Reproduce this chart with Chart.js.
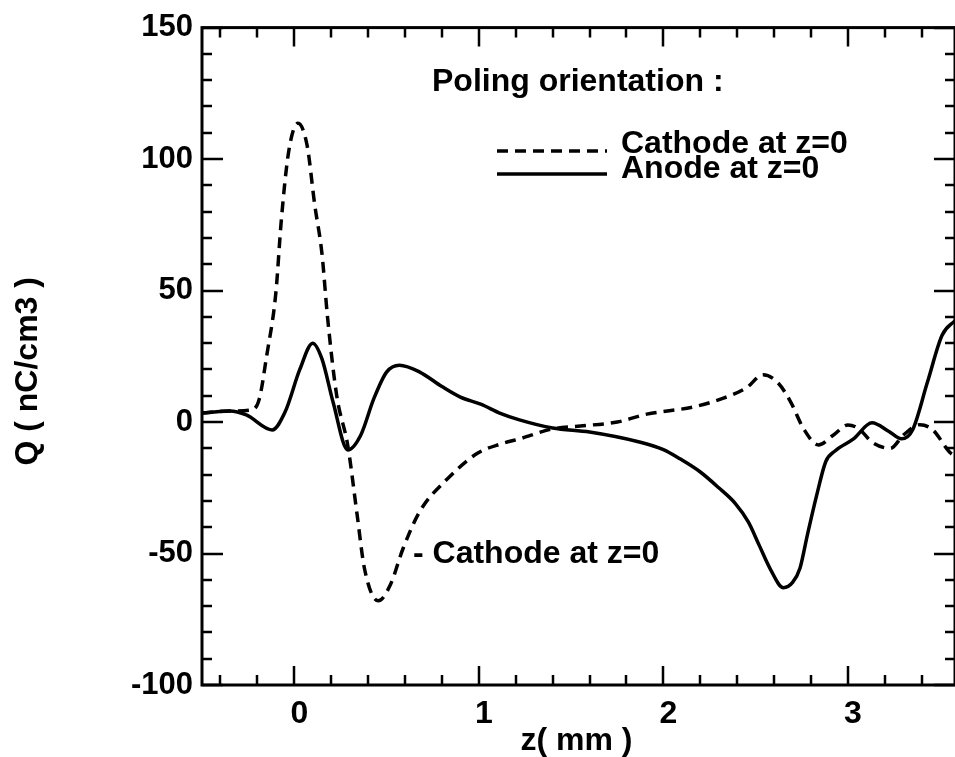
<!DOCTYPE html>
<html>
<head>
<meta charset="utf-8">
<script src="https://cdn.jsdelivr.net/npm/chart.js@4/dist/chart.umd.min.js"></script>
<style>
  html, body { margin: 0; padding: 0; background: #fff; overflow: hidden; }
  #wrap { width: 955px; height: 757px; position: relative; }
</style>
</head>
<body>
<div id="wrap"><canvas id="chart"></canvas></div>
<script>
// Space-charge profiles Q(z) for the two poling orientations
const zAnode = [-0.5, -0.35, -0.26, -0.12, -0.05, 0.03, 0.10, 0.15, 0.21, 0.29, 0.36, 0.43, 0.50, 0.57, 0.68, 0.80, 0.90, 1.01, 1.12, 1.22, 1.40, 1.60, 1.87, 2.00, 2.09, 2.20, 2.30, 2.39, 2.46, 2.52, 2.58, 2.65, 2.70, 2.74, 2.78, 2.83, 2.88, 2.93, 3.03, 3.13, 3.22, 3.29, 3.35, 3.43, 3.51, 3.58];
const qAnode = [3.4, 4.2, 2.7, -3, 3.8, 20, 30, 24, 7.6, -10.6, -5, 8.7, 19, 21.6, 19, 13.5, 9.5, 6.8, 3.2, 0.8, -2.3, -3.8, -7.6, -10.5, -14, -19, -25, -31, -38, -47, -56, -63, -61, -55.6, -43, -28, -15, -11, -6.4, -0.3, -3.5, -6.4, -3, 15, 33, 38.6];

const zCathode = [-0.5, -0.35, -0.24, -0.19, -0.15, -0.10, -0.07, -0.03, 0.02, 0.07, 0.11, 0.15, 0.18, 0.23, 0.29, 0.34, 0.38, 0.455, 0.52, 0.59, 0.68, 0.83, 0.99, 1.12, 1.22, 1.40, 1.55, 1.75, 1.91, 2.16, 2.31, 2.45, 2.54, 2.62, 2.69, 2.76, 2.84, 2.92, 3.00, 3.06, 3.13, 3.23, 3.30, 3.39, 3.46, 3.55, 3.58];
const qCathode = [3.4, 4.2, 4.5, 8.7, 25, 49, 77, 103, 113.6, 105, 83, 64, 40, 10, -9, -35, -55.6, -68, -62, -48, -34, -21.6, -12, -8.3, -6.4, -2.6, -1.5, 0, 3, 5.7, 8.7, 13, 18, 15, 7.6, -2.6, -8.7, -5, -1.1, -2.6, -7.6, -10, -5, -1, -3, -11.4, -13];

// Axis ticks
const xLabelTicks = [0, 1, 2, 3];
const xMinorTicks = [-0.4, -0.2, 0.2, 0.4, 0.6, 0.8, 1.2, 1.4, 1.6, 1.8, 2.2, 2.4, 2.6, 2.8, 3.2, 3.4];
const yLabelTicks = [-100, -50, 0, 50, 100, 150];
const yMinorTicks = [-90, -80, -70, -60, -40, -30, -20, -10, 10, 20, 30, 40, 60, 70, 80, 90, 110, 120, 130, 140];

const FONT = '"Liberation Sans", Arial, Helvetica, sans-serif';

function toPoints(xs, ys) {
  return xs.map((x, i) => ({ x: x, y: ys[i] }));
}

// Frame, inward ticks on all four sides, titles, legend and annotation
const decorations = {
  id: 'decorations',
  afterDraw(chart) {
    const { ctx, chartArea: a, scales: { x, y } } = chart;
    ctx.save();
    ctx.strokeStyle = '#000';
    ctx.fillStyle = '#000';

    ctx.lineWidth = 3;
    ctx.setLineDash([]);
    ctx.strokeRect(a.left, a.top, a.right - a.left, a.bottom - a.top);

    ctx.lineWidth = 2.5;
    ctx.beginPath();
    const yTick = (v, len) => {
      const py = Math.round(y.getPixelForValue(v));
      ctx.moveTo(a.left, py); ctx.lineTo(a.left + len, py);
      ctx.moveTo(a.right, py); ctx.lineTo(a.right - len, py);
    };
    const xTick = (v, len) => {
      const px = Math.round(x.getPixelForValue(v));
      ctx.moveTo(px, a.bottom); ctx.lineTo(px, a.bottom - len);
      ctx.moveTo(px, a.top); ctx.lineTo(px, a.top + len);
    };
    yLabelTicks.forEach(v => yTick(v, 21));
    yMinorTicks.forEach(v => yTick(v, 10));
    xLabelTicks.forEach(v => xTick(v, 19));
    xMinorTicks.forEach(v => xTick(v, 10));
    ctx.stroke();

    ctx.font = 'bold 32px ' + FONT;
    ctx.textBaseline = 'middle';

    // Axis titles
    ctx.textAlign = 'center';
    ctx.fillText('z( mm )', (a.left + a.right) / 2 - 2, a.bottom + 56);
    ctx.save();
    ctx.translate(28, (a.top + a.bottom) / 2 + 15);
    ctx.rotate(-Math.PI / 2);
    ctx.fillText('Q ( nC/cm3 )', 0, 0);
    ctx.restore();

    // Legend
    ctx.textAlign = 'left';
    ctx.fillText('Poling orientation :', 432, 82);
    ctx.fillText('Cathode at z=0', 621, 144);
    ctx.fillText('Anode at z=0', 621, 169);

    ctx.lineWidth = 3.5;
    ctx.beginPath();
    ctx.setLineDash([11, 7]);
    ctx.moveTo(497, 151); ctx.lineTo(607, 151);
    ctx.stroke();
    ctx.beginPath();
    ctx.setLineDash([]);
    ctx.moveTo(497, 174); ctx.lineTo(607, 174);
    ctx.stroke();

    // Label beside the negative lobe of the dashed curve
    ctx.fillText('- Cathode at z=0', 413, 554);
    ctx.restore();
  }
};

new Chart(document.getElementById('chart'), {
  type: 'line',
  data: {
    datasets: [
      {
        label: 'Cathode at z=0',
        data: toPoints(zCathode, qCathode),
        borderColor: '#000',
        borderWidth: 3.5,
        borderDash: [11, 7],
        pointRadius: 0,
        fill: false,
        cubicInterpolationMode: 'monotone'
      },
      {
        label: 'Anode at z=0',
        data: toPoints(zAnode, qAnode),
        borderColor: '#000',
        borderWidth: 3.5,
        pointRadius: 0,
        fill: false,
        cubicInterpolationMode: 'monotone'
      }
    ]
  },
  options: {
    responsive: true,
    maintainAspectRatio: false,
    animation: false,
    devicePixelRatio: 1,
    layout: { padding: { top: 24, right: 0, bottom: 0, left: 0 } },
    plugins: {
      legend: { display: false },
      tooltip: { enabled: false }
    },
    scales: {
      x: {
        type: 'linear',
        min: -0.5,
        max: 3.58,
        grid: { display: false, drawTicks: false },
        border: { display: false },
        afterBuildTicks: s => { s.ticks = xLabelTicks.map(v => ({ value: v })); },
        afterFit: s => { s.height = 72; },
        ticks: {
          color: '#000',
          font: { family: FONT, size: 32, weight: 'bold' },
          padding: 10,
          labelOffset: 5,
          maxRotation: 0,
          autoSkip: false,
          callback: v => String(v)
        }
      },
      y: {
        type: 'linear',
        min: -100,
        max: 150,
        grid: { display: false, drawTicks: false },
        border: { display: false },
        afterBuildTicks: s => { s.ticks = yLabelTicks.map(v => ({ value: v })); },
        afterFit: s => { s.width = 202; },
        ticks: {
          color: '#000',
          font: { family: FONT, size: 31, weight: 'bold' },
          padding: 9,
          autoSkip: false,
          callback: v => String(v)
        }
      }
    }
  },
  plugins: [decorations]
});
</script>
</body>
</html>
